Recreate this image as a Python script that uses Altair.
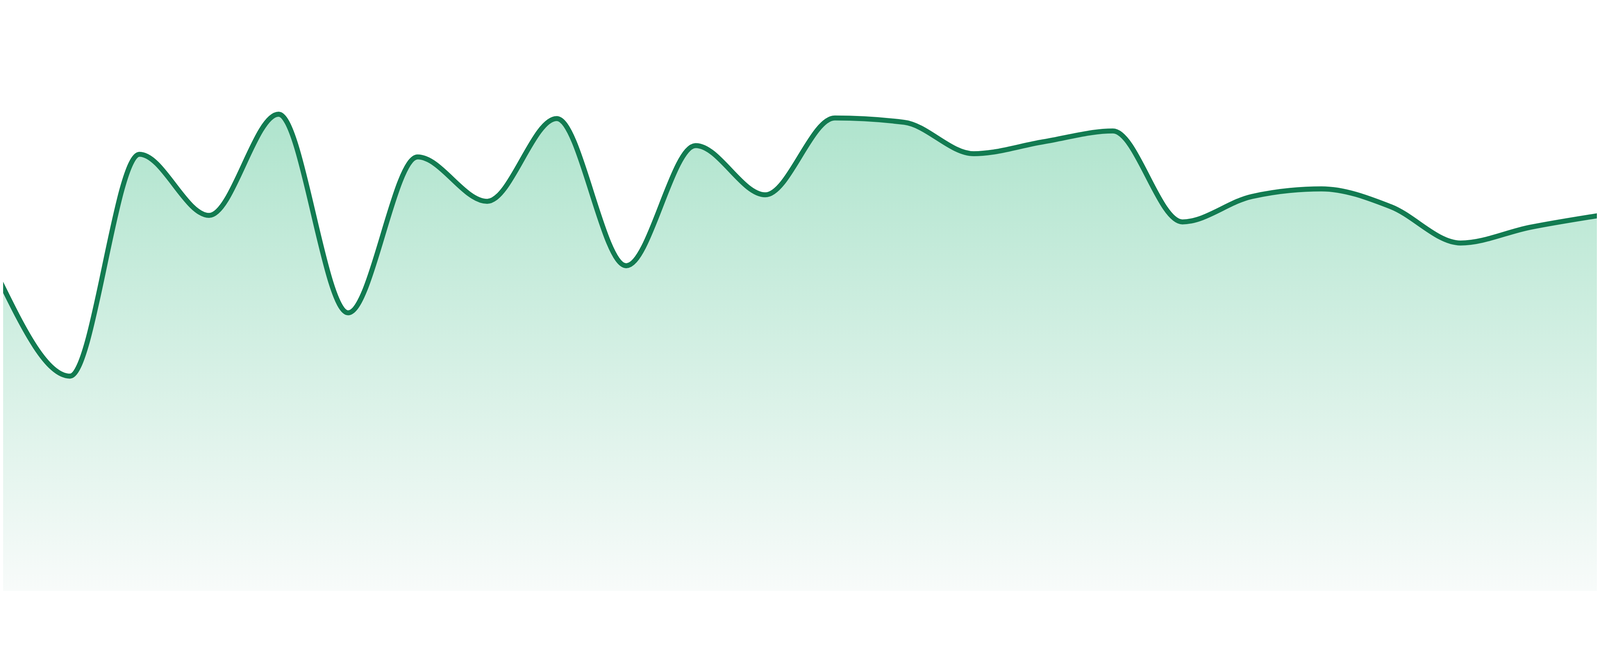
import altair as alt
import pandas as pd

# point index along the x axis (evenly spaced)
idx = list(range(24))
# series values (arbitrary units, 0-100 scale)
values = [57.1, 39.7, 80.7, 69.4, 88.1, 51.4, 80.2, 72.0, 87.3, 60.1, 82.3, 73.2,
          87.4, 86.6, 80.8, 83.0, 85.0, 68.2, 72.9, 74.3, 71.0, 64.3, 67.2, 69.4]

df = pd.DataFrame({"i": idx, "v": values})

x = alt.X("i:Q", axis=None, scale=alt.Scale(domain=[0.0383, 22.9617], nice=False, zero=False))
y = alt.Y("v:Q", axis=None, scale=alt.Scale(domain=[0, 100], nice=False, zero=True))

grad = alt.Gradient(
    gradient="linear", x1=0, y1=0, x2=0, y2=1,
    stops=[alt.GradientStop(offset=0, color="#afe4cd"),
           alt.GradientStop(offset=1, color="#f8fbfa")],
)

area = alt.Chart(df).mark_area(interpolate="monotone", clip=True, color=grad).encode(x=x, y=y)
line = alt.Chart(df).mark_line(interpolate="monotone", clip=True, color="#127b51",
                               strokeWidth=15, strokeJoin="round", strokeCap="round").encode(x=x, y=y)

chart = (area + line).properties(width=4784, height=1625, padding=0, background="white").configure_view(stroke=None)

chart.save("out.html", embed_options={"renderer": "svg", "actions": False})
